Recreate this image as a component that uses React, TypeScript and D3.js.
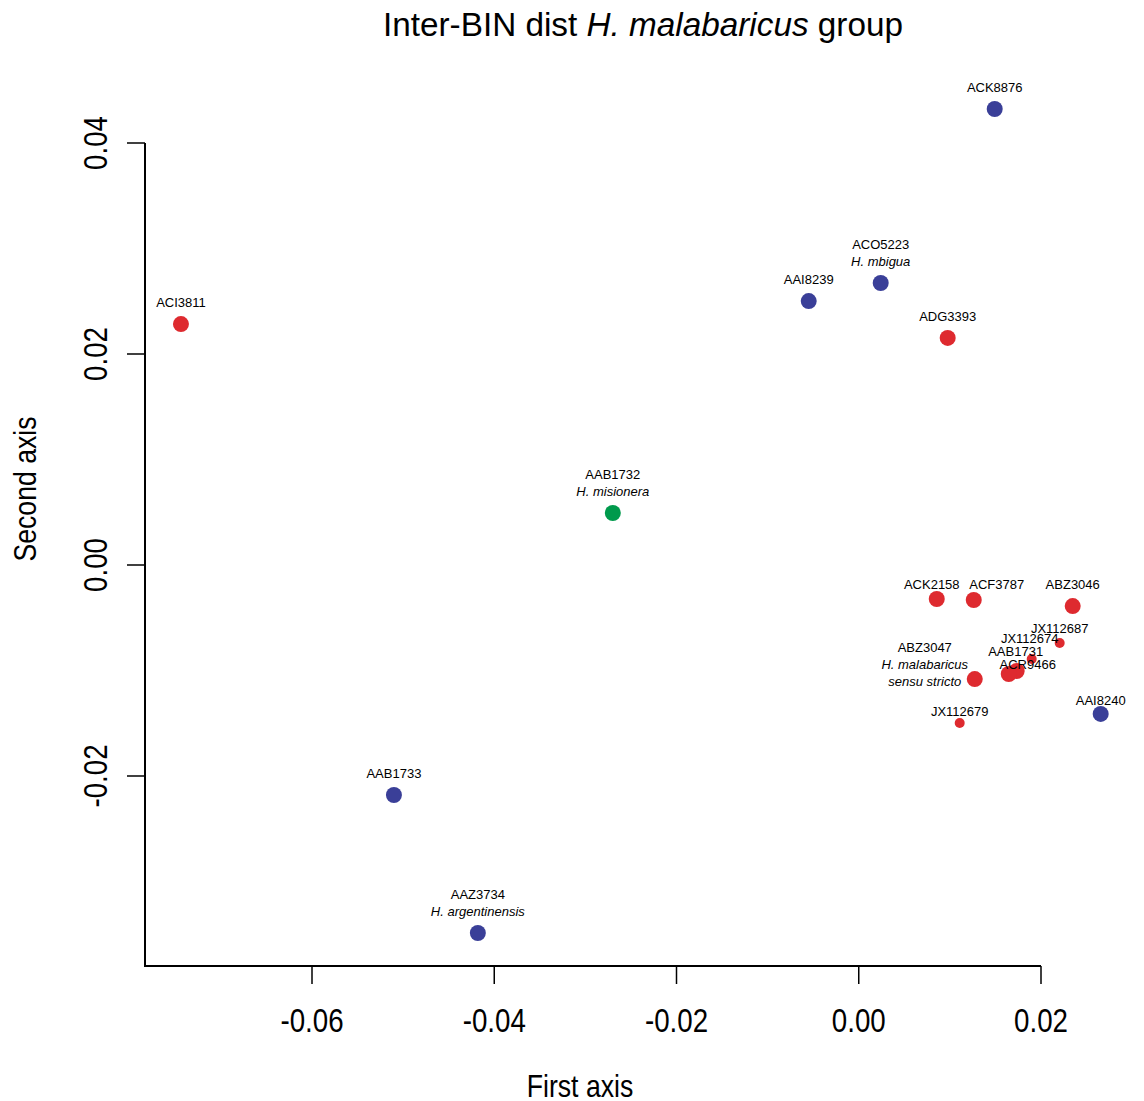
import * as React from "react";
import * as d3 from "d3";

// BIN ordination coordinates
const bins = ["ACK8876", "ACO5223", "AAI8239", "ADG3393", "ACI3811", "AAB1732", "ACK2158", "ACF3787", "ABZ3046",
  "JX112687", "JX112674", "AAB1731", "ACR9466", "ABZ3047", "JX112679", "AAI8240", "AAB1733", "AAZ3734"];
const firstAxis = [0.01492, 0.00241, -0.00549, 0.00976, -0.07438, -0.02699, 0.00856, 0.01262, 0.02348,
  0.02205, 0.01898, 0.01733, 0.01646, 0.01273, 0.01108, 0.02655, -0.05101, -0.0418];
const secondAxis = [0.04322, 0.02673, 0.02502, 0.02152, 0.02284, 0.00493, -0.00322, -0.00332, -0.00389,
  -0.00739, -0.00891, -0.01005, -0.01033, -0.01081, -0.01498, -0.01412, -0.0218, -0.03488];
const group = ["b", "b", "b", "r", "r", "g", "r", "r", "r", "r", "r", "r", "r", "r", "r", "b", "b", "b"];
const sequence = [false, false, false, false, false, false, false, false, false, true, true, false, false, false, true, false, false, false];
const species = ["", "H. mbigua", "", "", "", "H. misionera", "", "", "", "", "", "", "",
  "H. malabaricus|sensu stricto", "", "", "", "H. argentinensis"];

const xTicks = [-0.06, -0.04, -0.02, 0.0, 0.02];
const yTicks = [-0.02, 0.0, 0.02, 0.04];

// label nudges in px (dx, dy of the last line relative to the point)
const labelNudge: Record<string, [number, number]> = {
  ACK2158: [-5, -15],
  ACF3787: [23, -16],
  JX112687: [0, -15],
  JX112674: [-2, -21],
  AAB1731: [-1, -20],
  ACR9466: [19, -10],
  ABZ3047: [-50, 2],
  JX112679: [0, -12],
  AAI8240: [0, -14],
};

const colors: Record<string, string> = { b: "#3a3f98", r: "#de2a2f", g: "#009a4c" };

export default function App() {
  const width = 1144;
  const height = 1101;
  const x = d3.scaleLinear().domain([-0.06, 0.02]).range([312, 1041]);
  const y = d3.scaleLinear().domain([-0.02, 0.04]).range([776, 143]);
  const left = 145;
  const bottom = 966;
  const sans = "'Liberation Sans', Arial, Helvetica, sans-serif";
  const fmt = (t: number) => d3.format(".2f")(t).replace("−", "-");

  const pts = bins.map((b, i) => ({ id: b, x: x(firstAxis[i]), y: y(secondAxis[i]), c: colors[group[i]], small: sequence[i], sp: species[i] }));

  return (
    <svg width={width} height={height} style={{ position: "absolute", left: 0, top: 0 }}>
      <rect width={width} height={height} fill="#fff" />
      <text x={643} y={36} textAnchor="middle" fontFamily={sans} fontSize={33.3}>
        Inter-BIN dist <tspan fontStyle="italic">H. malabaricus</tspan> group
      </text>
      {/* axes */}
      <path d={`M${left},${y(0.04)}V${bottom}H${x(0.02)}`} fill="none" stroke="#000" strokeWidth={2} />
      {xTicks.map(t => (
        <g key={"x" + t}>
          <line x1={x(t)} x2={x(t)} y1={bottom} y2={bottom + 18} stroke="#000" strokeWidth={1.5} />
          <text transform={`translate(${x(t)},1032) scale(0.84,1)`} textAnchor="middle" fontFamily={sans} fontSize={33}>{fmt(t)}</text>
        </g>
      ))}
      {yTicks.map(t => (
        <g key={"y" + t}>
          <line x1={left - 18} x2={left} y1={y(t)} y2={y(t)} stroke="#000" strokeWidth={1.5} />
          <text transform={`translate(107,${y(t)}) rotate(-90) scale(0.84,1)`} textAnchor="middle" fontFamily={sans} fontSize={33}>{fmt(t)}</text>
        </g>
      ))}
      <text transform="translate(580,1097) scale(0.86,1)" textAnchor="middle" fontFamily={sans} fontSize={31}>First axis</text>
      <text transform="translate(36,489) rotate(-90) scale(0.86,1)" textAnchor="middle" fontFamily={sans} fontSize={31}>Second axis</text>
      {/* points */}
      {pts.map(p => (
        <circle key={"c" + p.id} cx={p.x} cy={p.y} r={p.small ? 5 : 8} fill={p.c} />
      ))}
      {pts.map(p => {
        const [dx, dy] = labelNudge[p.id] || [0, -22];
        const lines = [p.id, ...(p.sp ? p.sp.split("|") : [])];
        const n = lines.length;
        return (
          <g key={"t" + p.id} fontFamily={sans} fontSize={13} textAnchor="middle">
            {lines.map((l, j) => (
              <text key={j} x={p.x + dx} y={p.y + dy - (n - 1 - j) * 17 + 5} fontStyle={j > 0 ? "italic" : "normal"}>{l}</text>
            ))}
          </g>
        );
      })}
    </svg>
  );
}
